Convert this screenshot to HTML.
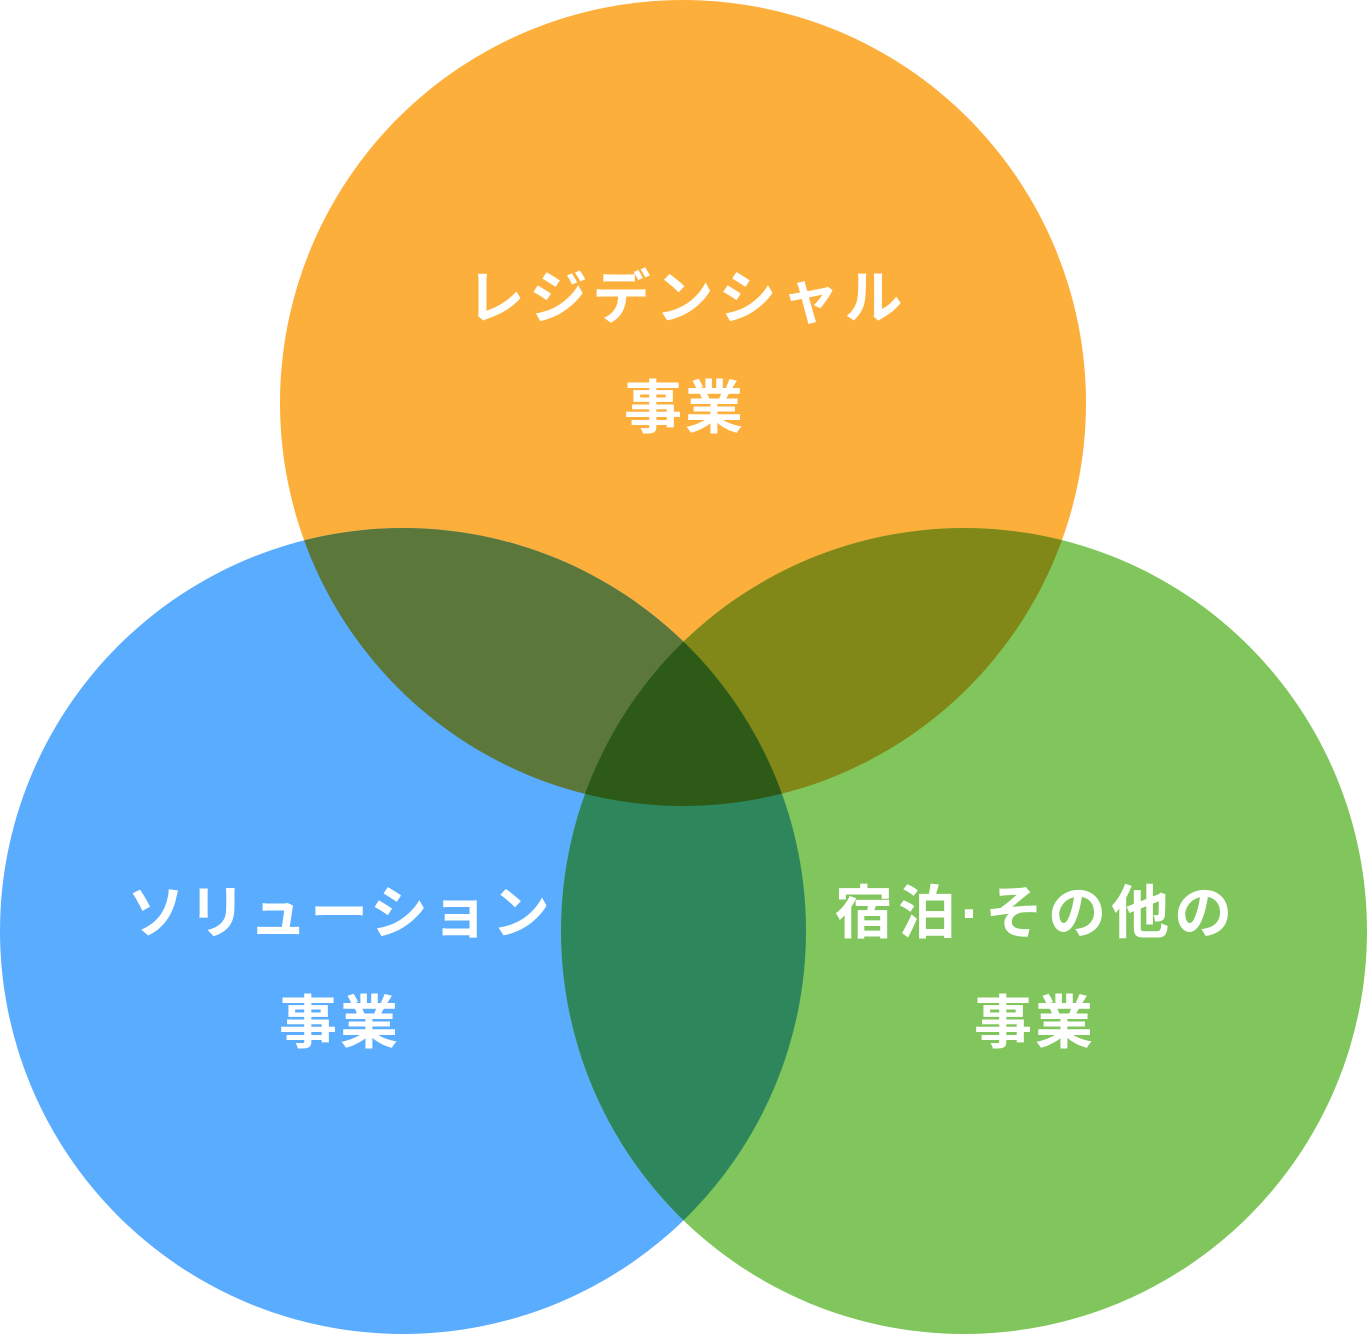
<!DOCTYPE html>
<html><head><meta charset="utf-8"><style>
html,body{margin:0;padding:0;background:#fff;}
svg{display:block;}
text{font-family:"Liberation Sans","Noto Sans CJK JP",sans-serif;font-weight:bold;font-size:58px;fill:#fff;letter-spacing:3px;}
.w{letter-spacing:5px;}
</style></head><body>
<svg width="1367" height="1334" viewBox="0 0 1367 1334">
<defs>
<clipPath id="cT"><circle cx="683" cy="403" r="403"/></clipPath>
<clipPath id="cL"><circle cx="403" cy="931" r="403"/></clipPath>
<clipPath id="cR"><circle cx="964" cy="931" r="403"/></clipPath>
</defs>
<circle cx="683" cy="403" r="403" fill="#FDAF3B"/>
<circle cx="403" cy="931" r="403" fill="#5AACFE"/>
<circle cx="964" cy="931" r="403" fill="#80C65C"/>
<g clip-path="url(#cT)"><circle cx="403" cy="931" r="403" fill="#5C773A"/><circle cx="964" cy="931" r="403" fill="#828817"/></g>
<g clip-path="url(#cL)"><circle cx="964" cy="931" r="403" fill="#2E875C"/></g>
<g clip-path="url(#cT)"><g clip-path="url(#cL)"><circle cx="964" cy="931" r="403" fill="#2E5A17"/></g></g>
<text class="w" x="687" y="318" text-anchor="middle">レジデンシャル</text>
<text x="685" y="428" text-anchor="middle">事業</text>
<text x="340" y="933" text-anchor="middle">ソリューション</text>
<text x="340" y="1043" text-anchor="middle">事業</text>
<text class="w" x="1036" y="933" text-anchor="middle">宿泊·その他の</text>
<text x="1035" y="1043" text-anchor="middle">事業</text>
</svg>
</body></html>
